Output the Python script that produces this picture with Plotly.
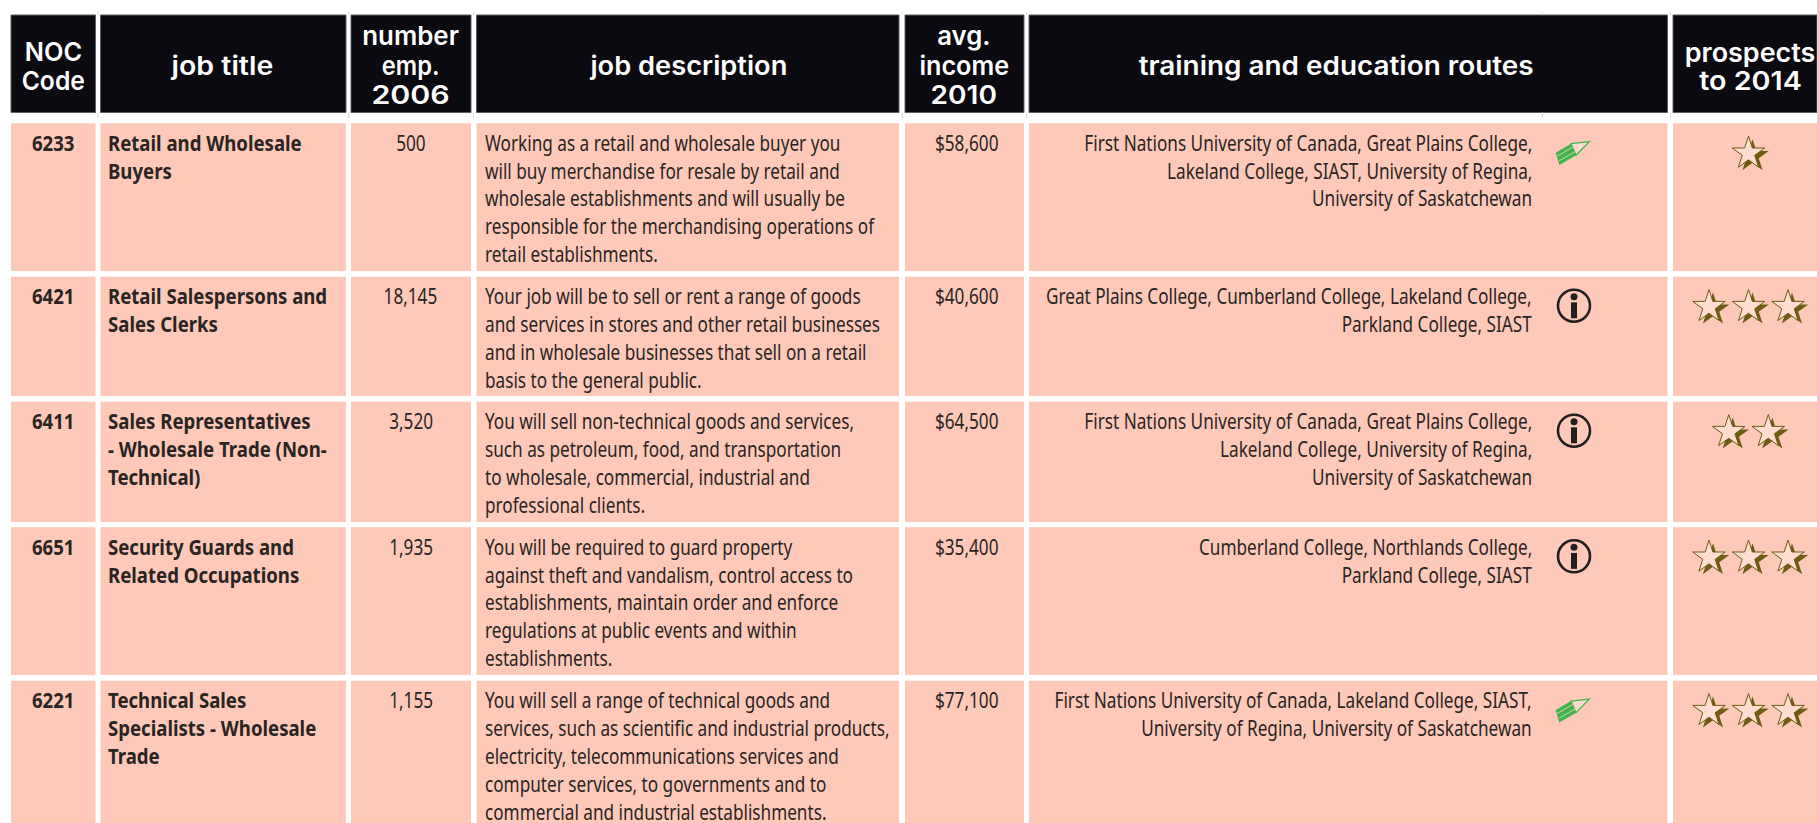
import json
import plotly.graph_objects as go

# ---------- data ----------
noc_codes = ["6233", "6421", "6411", "6651", "6221"]
job_titles = [
    ["Retail and Wholesale", "Buyers"],
    ["Retail Salespersons and", "Sales Clerks"],
    ["Sales Representatives", "- Wholesale Trade (Non-", "Technical)"],
    ["Security Guards and", "Related Occupations"],
    ["Technical Sales", "Specialists - Wholesale", "Trade"],
]
number_employed = [500, 18145, 3520, 1935, 1155]
job_descriptions = [
    ["Working as a retail and wholesale buyer you", "will buy merchandise for resale by retail and",
     "wholesale establishments and will usually be", "responsible for the merchandising operations of",
     "retail establishments."],
    ["Your job will be to sell or rent a range of goods", "and services in stores and other retail businesses",
     "and in wholesale businesses that sell on a retail", "basis to the general public."],
    ["You will sell non-technical goods and services,", "such as petroleum, food, and transportation",
     "to wholesale, commercial, industrial and", "professional clients."],
    ["You will be required to guard property", "against theft and vandalism, control access to",
     "establishments, maintain order and enforce", "regulations at public events and within",
     "establishments."],
    ["You will sell a range of technical goods and", "services, such as scientific and industrial products,",
     "electricity, telecommunications services and", "computer services, to governments and to",
     "commercial and industrial establishments."],
]
avg_income = [58600, 40600, 64500, 35400, 77100]
routes = [
    ["First Nations University of Canada, Great Plains College,", "Lakeland College, SIAST, University of Regina,",
     "University of Saskatchewan"],
    ["Great Plains College, Cumberland College, Lakeland College,", "Parkland College, SIAST"],
    ["First Nations University of Canada, Great Plains College,", "Lakeland College, University of Regina,",
     "University of Saskatchewan"],
    ["Cumberland College, Northlands College,", "Parkland College, SIAST"],
    ["First Nations University of Canada, Lakeland College, SIAST,", "University of Regina, University of Saskatchewan"],
]
route_icons = ["pencil", "info", "info", "info", "pencil"]
prospects = [1, 3, 2, 3, 3]
headers = [
    ["NOC", "Code"], ["job title"], ["number", "emp.", "2006"], ["job description"],
    ["avg.", "income", "2010"], ["training and education routes"], ["prospects", "to 2014"],
]

# ---------- layout constants ----------
W, H = 1817, 823
COL_EDGES = [(11, 95.5), (100.5, 346), (351, 471), (476.5, 899), (905, 1024), (1029, 1667.5), (1673, 1817)]
HEAD_Y = (15, 112.5)
ROW_EDGES = [(123.3, 271), (276.7, 396), (401.7, 522), (527.3, 675), (680.7, 823)]
HEAD_X = [53, 221.7, 410.7, 688, 964, 1336, 1750]
HEAD_LINE_Y = {1: [65], 2: [51, 80], 3: [35.5, 65, 94]}
HEAD_WIDTHS = {"NOC": 57.3, "Code": 63.3, "job title": 101.7, "number": 96.7, "emp.": 57.7, "2006": 78.3,
               "job description": 197, "avg.": 53.3, "income": 89.7, "2010": 66.3,
               "training and education routes": 395, "prospects": 130.7, "to 2014": 102.7}
GAP_TICKS = [98, 348.5, 473.5, 902.5, 1026.5, 1542.5, 1670.5]
PITCH = 27.9
PINK = "#FEC9B8"
INK = "#2A2523"
BODY = "Noto Sans"
HEAD = "Inter"
BS = 22
K_BODY = 0.78
K_BOLD = 0.845

fig = go.Figure()
shapes = []
ann = []


def rect(x0, x1, y0, y1, fill, line=None):
    shapes.append(dict(type="rect", xref="x", yref="y", x0=x0, x1=x1, y0=y0, y1=y1, fillcolor=fill,
                       line=dict(color=line or fill, width=1 if line else 0), layer="below"))


def text(x, y, s, anchor="center", size=BS, color=INK, weight="normal", family=BODY):
    ann.append(dict(x=x, y=y, xref="x", yref="y", text=s, showarrow=False, xanchor=anchor, yanchor="middle",
                    align=anchor, borderpad=0, borderwidth=0,
                    font=dict(family=family, size=size, color=color, weight=weight)))


for (x0, x1), xc, lines in zip(COL_EDGES, HEAD_X, headers):
    rect(x0, x1, HEAD_Y[0], HEAD_Y[1], "#0A0A10", "#5E5E62")
    for ly, s in zip(HEAD_LINE_Y[len(lines)] if xc != 1750 else [52, 80], lines):
        text(xc, ly, s, size=26, color="#FFFFFF", weight=600, family=HEAD)

for x in GAP_TICKS:
    for y0, y1 in ((12, 15), (112.5, 118)):
        shapes.append(dict(type="line", xref="x", yref="y", x0=x, x1=x, y0=y0, y1=y1,
                           line=dict(color="#DADADA", width=1), layer="below"))

star_x, star_y, info_x, info_y = [], [], [], []
PENCIL = {
    "body": [(1555.7, 29.4), (1571, 20.4), (1576, 32), (1559.3, 41.7)],
    "tip": [(1571, 20.4), (1589.3, 18.4), (1576, 32)],
    "s1": [(1557.3, 32.7), (1573, 23.7)],
    "s2": [(1559.3, 37.4), (1575.5, 28)],
}


def path(pts, dy, close=True):
    p = " ".join(("M" if i == 0 else "L") + f"{x:.1f},{y + dy:.1f}" for i, (x, y) in enumerate(pts))
    return p + (" Z" if close else "")


for i, (y0, y1) in enumerate(ROW_EDGES):
    for x0, x1 in COL_EDGES:
        rect(x0, x1, y0, y1, PINK)
    fy = y0 + 18.3
    text(HEAD_X[0], fy, noc_codes[i], weight="bold")
    for k, s in enumerate(job_titles[i]):
        text(108, fy + k * PITCH, s, anchor="left", weight="bold")
    text(HEAD_X[2], fy, f"{number_employed[i]:,}")
    for k, s in enumerate(job_descriptions[i]):
        text(484.6, fy + k * PITCH, s, anchor="left")
    text(966, fy, f"${avg_income[i]:,}")
    for k, s in enumerate(routes[i]):
        text(1532, fy + k * PITCH, s, anchor="right")
    n = prospects[i]
    for k in range(n):
        star_x.append(1750 + (k - (n - 1) / 2) * 39.5)
        star_y.append(y0 + 30.5)
    if route_icons[i] == "info":
        info_x.append(1574)
        info_y.append(y0 + 29)
    else:
        shapes.append(dict(type="path", xref="x", yref="y", path=path(PENCIL["body"], y0),
                           fillcolor="#3DB54A", line=dict(width=0), layer="above"))
        shapes.append(dict(type="path", xref="x", yref="y", path=path(PENCIL["tip"], y0),
                           fillcolor="#FFD9CC", line=dict(color="#3DB54A", width=1.3), layer="above"))
        for key in ("s1", "s2"):
            shapes.append(dict(type="path", xref="x", yref="y", path=path(PENCIL[key], y0, False),
                               line=dict(color=PINK, width=0.9), layer="above"))

OLIVE = "#6E5C12"
SS = 24.5
fig.add_trace(go.Scatter(x=[a + 2.5 for a in star_x], y=[b + 2.5 for b in star_y], mode="markers", hoverinfo="skip",
                         marker=dict(symbol="star", size=SS, color=OLIVE, line=dict(width=0))))
fig.add_trace(go.Scatter(x=[a - 1.5 for a in star_x], y=[b - 0.5 for b in star_y], mode="markers", hoverinfo="skip",
                         marker=dict(symbol="star", size=SS, color="#FFDDD0", line=dict(color=OLIVE, width=1))))
fig.add_trace(go.Scatter(x=info_x, y=info_y, mode="markers", hoverinfo="skip",
                         marker=dict(symbol="circle", size=32, color="rgba(0,0,0,0)", line=dict(color="#231F20", width=2.6))))
fig.add_trace(go.Scatter(x=info_x, y=[b - 9 for b in info_y], mode="markers", hoverinfo="skip",
                         marker=dict(symbol="circle", size=7, color="#231F20", line=dict(width=0))))
fig.add_trace(go.Scatter(x=info_x, y=[b + 4.6 for b in info_y], mode="markers", hoverinfo="skip",
                         marker=dict(symbol="line-ns", size=11.4, line=dict(color="#231F20", width=6))))

fig.update_layout(
    width=W, height=H, margin=dict(l=0, r=0, t=0, b=0), showlegend=False,
    paper_bgcolor="#FFFFFF", plot_bgcolor="#FFFFFF", shapes=shapes, annotations=ann,
    xaxis=dict(range=[0, W], visible=False, fixedrange=True),
    yaxis=dict(range=[H, 0], visible=False, fixedrange=True),
)
squeeze = """
document.body.style.margin='0';document.documentElement.style.overflow='hidden';
(function(){
  var KN=%s,KB=%s,HW=%s;
  function fit(){
    document.querySelectorAll('.annotation-text').forEach(function(t){
      t.removeAttribute('textLength');
      var bold=(t.style.fontWeight==='bold'||t.style.fontWeight==='700');
      var head=t.style.fontFamily.indexOf('Inter')>=0;
      var len=head?HW[t.textContent]:t.getComputedTextLength()*(bold?KB:KN);
      t.setAttribute('textLength',len.toFixed(2));
      t.setAttribute('lengthAdjust','spacingAndGlyphs');
    });
  }
  fit();
  var gd=document.querySelector('.plotly-graph-div');
  if(gd&&gd.on){gd.on('plotly_afterplot',fit);}
})();
""" % (K_BODY, K_BOLD, json.dumps(HEAD_WIDTHS))
fig.write_html("out.html", config=dict(displayModeBar=False), post_script=squeeze)
